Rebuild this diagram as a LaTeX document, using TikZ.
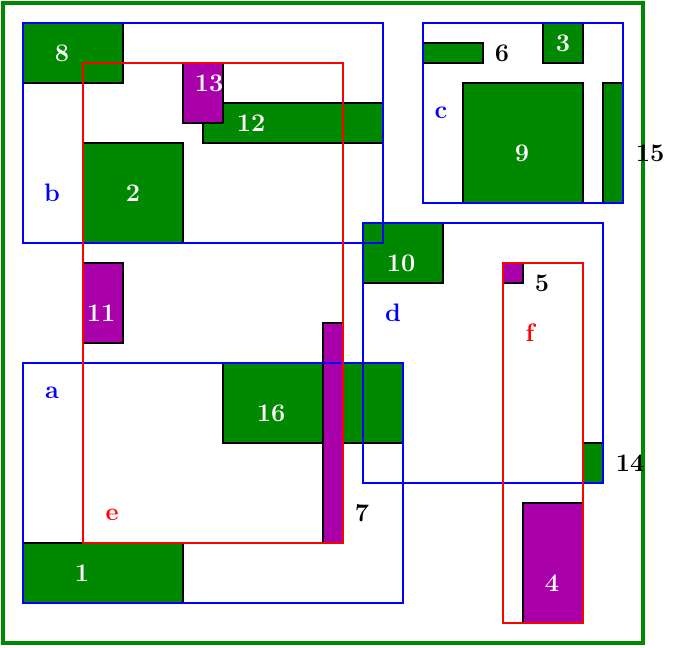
\documentclass[tikz,border=0pt]{standalone}
\usetikzlibrary{positioning}

\definecolor{blockgreen}{RGB}{0,136,0}
\definecolor{blockpurple}{RGB}{170,0,170}

\tikzset{
  greenblock/.style = {fill=blockgreen, draw=black, line width=0.6pt},
  purpleblock/.style = {fill=blockpurple, draw=black, line width=0.6pt},
  bluebin/.style = {draw=blue, line width=0.6pt},
  redbin/.style = {draw=red, line width=0.6pt},
  inlabel/.style = {text=white, font=\Large\bfseries, inner sep=0pt},
  outlabel/.style = {text=black, font=\Large\bfseries, inner sep=0pt},
  binlabel/.style = {font=\Large\bfseries, inner sep=0pt}
}

\begin{document}
\begin{tikzpicture}[x=0.02cm, y=-0.02cm]

\useasboundingbox (0,0) rectangle (673,647);

% outer frame
\draw [draw=blockgreen, line width=1.8pt] (3,3) rectangle (643,643);

% green blocks
\draw [greenblock] (23,23) rectangle (123,83);
\draw [greenblock] (203,103) rectangle (383,143);
\draw [greenblock] (83,143) rectangle (183,243);
\draw [greenblock] (223,363) rectangle (403,443);
\draw [greenblock] (23,543) rectangle (183,603);
\draw [greenblock] (423,43) rectangle (483,63);
\draw [greenblock] (543,23) rectangle (583,63);
\draw [greenblock] (463,83) rectangle (583,203);
\draw [greenblock] (603,83) rectangle (623,203);
\draw [greenblock] (363,223) rectangle (443,283);
\draw [greenblock] (583,443) rectangle (603,483);

% purple blocks
\draw [purpleblock] (183,63) rectangle (223,123);
\draw [purpleblock] (83,263) rectangle (123,343);
\draw [purpleblock] (323,323) rectangle (343,543);
\draw [purpleblock] (503,263) rectangle (523,283);
\draw [purpleblock] (523,503) rectangle (583,623);

% bins
\draw [bluebin] (23,23) rectangle (383,243);
\draw [bluebin] (423,23) rectangle (623,203);
\draw [bluebin] (363,223) rectangle (603,483);
\draw [bluebin] (23,363) rectangle (403,603);
\draw [redbin] (83,63) rectangle (343,543);
\draw [redbin] (503,263) rectangle (583,623);

% block numbers
\node (n8)  [inlabel] at (62,53)   {8};
\node (n13) [inlabel] at (209,83)  {13};
\node (n12) [inlabel] at (251,123) {12};
\node (n2)  [inlabel] at (133,193) {2};
\node (n11) [inlabel] at (101,313) {11};
\node (n16) [inlabel] at (271,413) {16};
\node (n1)  [inlabel] at (82,573)  {1};
\node (n3)  [inlabel] at (563,43)  {3};
\node (n9)  [inlabel] at (522,153) {9};
\node (n10) [inlabel] at (401,263) {10};
\node (n4)  [inlabel] at (552,583) {4};

\node (n6)  [outlabel] at (502,53)  {6};
\node (n15) [outlabel] at (650,153) {15};
\node (n5)  [outlabel] at (542,283) {5};
\node (n14) [outlabel] at (630,463) {14};
\node (n7)  [outlabel] at (362,513) {7};

% bin letters
\node (la) [binlabel, text=blue] at (52,393)  {a};
\node (lb) [binlabel, text=blue] at (52,193)  {b};
\node (lc) [binlabel, text=blue] at (441,113) {c};
\node (ld) [binlabel, text=blue] at (393,313) {d};
\node (le) [binlabel, text=red]  at (112,515) {e};
\node (lf) [binlabel, text=red]  at (530,333) {f};

\end{tikzpicture}
\end{document}
